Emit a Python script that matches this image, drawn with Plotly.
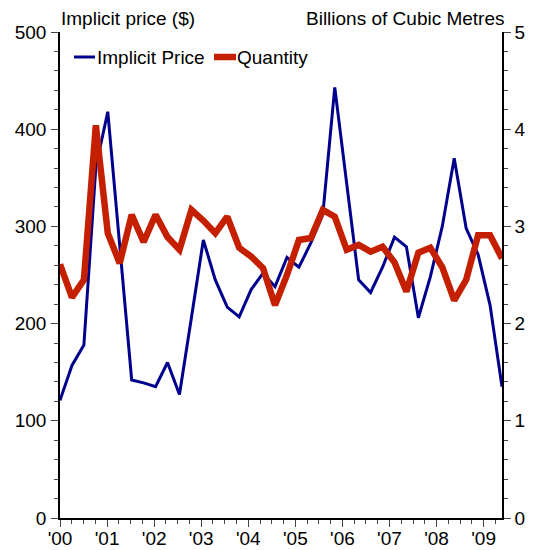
import plotly.graph_objects as go

# Quarterly observations (38 points)
quarters = [f"{y}Q{q}" for y in range(2000, 2010) for q in range(1, 5)][:38]

implicit_price = [121, 157, 178, 361, 418, 282, 142, 139, 135, 160,
                  127, 206, 286, 245, 217, 207, 235, 252, 238, 268,
                  258, 283, 312, 443, 343, 245, 232, 258, 289, 279,
                  206, 248, 300, 370, 298, 271, 219, 135]

quantity = [2.61, 2.27, 2.45, 4.04, 2.93, 2.62, 3.12, 2.84, 3.12, 2.89,
            2.76, 3.17, 3.06, 2.93, 3.10, 2.78, 2.69, 2.57, 2.19, 2.50,
            2.86, 2.88, 3.17, 3.10, 2.76, 2.81, 2.74, 2.79, 2.63, 2.33,
            2.73, 2.78, 2.58, 2.24, 2.45, 2.91, 2.91, 2.67]

year_labels = ["'00", "'01", "'02", "'03", "'04", "'05", "'06", "'07", "'08", "'09"]
series_names = ["Implicit Price", "Quantity"]

x_idx = list(range(len(quarters)))
YEAR_STEP = 3.94  # year-tick spacing on the category scale, as drawn in the source
tick_positions = [i * YEAR_STEP for i in range(len(year_labels))]

BLUE = "#00008C"
RED = "#C42000"
FONT = "Liberation Sans, Arial, sans-serif"

# page body has an 8px margin; size the figure to fit the 534x550 window
OFF = 8
W, H = 534 - OFF, 550 - OFF
# plot area in page pixels: x 60..502, y 32..518
ML, MR, MT, MB = 60 - OFF, 534 - 502, 32 - OFF, 550 - 518
PW, PH = W - ML - MR, H - MT - MB


def px_x(p):  # page pixel -> paper x
    return (p - OFF - ML) / PW


def px_y(p):  # page pixel -> paper y
    return (H - MB - (p - OFF)) / PH


fig = go.Figure()
fig.add_trace(go.Scatter(x=x_idx, y=implicit_price, name=series_names[0],
                         mode="lines", line=dict(color=BLUE, width=3),
                         yaxis="y", showlegend=False))
fig.add_trace(go.Scatter(x=x_idx, y=quantity, name=series_names[1],
                         mode="lines", line=dict(color=RED, width=6.5),
                         yaxis="y2", showlegend=False))

axis_common = dict(showgrid=False, zeroline=False, showline=True,
                   linecolor="black", linewidth=1.5, ticks="outside",
                   ticklen=7, tickwidth=1, tickcolor="#444", automargin=False,
                   tickfont=dict(family=FONT, size=19, color="black"))

# manual legend (line sample + label)
legend_items = [(series_names[0], BLUE, 3, 74, 95, 96),
                (series_names[1], RED, 6.5, 214, 236, 236)]
shapes, annotations = [], []
for name, col, lw, x0, x1, tx in legend_items:
    shapes.append(dict(type="line", xref="paper", yref="paper",
                       x0=px_x(x0), x1=px_x(x1), y0=px_y(57), y1=px_y(57),
                       line=dict(color=col, width=lw)))
    annotations.append(dict(text=name, xref="paper", yref="paper",
                            x=px_x(tx), y=px_y(57), xanchor="left", yanchor="middle",
                            showarrow=False, borderpad=0,
                            font=dict(family=FONT, size=19)))

annotations += [
    dict(text="Implicit price ($)", xref="paper", yref="paper", x=px_x(60), y=px_y(18),
         xanchor="left", yanchor="middle", showarrow=False, borderpad=0,
         font=dict(family=FONT, size=19)),
    dict(text="Billions of Cubic Metres", xref="paper", yref="paper", x=px_x(506),
         y=px_y(18), xanchor="right", yanchor="middle", showarrow=False, borderpad=0,
         font=dict(family=FONT, size=19)),
]

fig.update_layout(
    width=W, height=H,
    margin=dict(l=ML, r=MR, t=MT, b=MB),
    plot_bgcolor="white", paper_bgcolor="white",
    font=dict(family=FONT, size=19, color="black"),
    xaxis=dict(range=[0, len(quarters) - 1], tickvals=tick_positions,
               ticktext=year_labels, ticklabelstandoff=-5,
               minor=dict(dtick=YEAR_STEP / 4, tick0=0, ticks="outside", ticklen=4,
                          tickcolor="#444"),
               **axis_common),
    yaxis=dict(range=[0, 500], dtick=100, ticklabelstandoff=1,
               minor=dict(dtick=20, ticks="outside", ticklen=4, tickcolor="#444"),
               **axis_common),
    yaxis2=dict(range=[0, 5], dtick=1, overlaying="y", side="right",
                minor=dict(dtick=0.2, ticks="outside", ticklen=4, tickcolor="#444"),
                **axis_common),
    showlegend=False,
    shapes=shapes,
    annotations=annotations,
)

fig.write_html("out.html")
